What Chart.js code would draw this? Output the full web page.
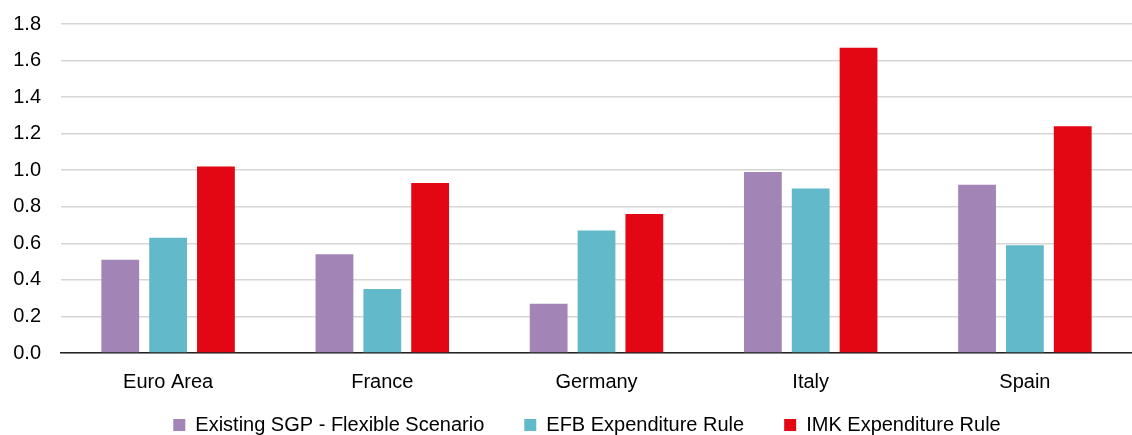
<!DOCTYPE html>
<html>
<head>
<meta charset="utf-8">
<script src="https://cdn.jsdelivr.net/npm/chart.js@4"></script>
<style>
  html, body { margin: 0; padding: 0; background: #fff; overflow: hidden; }
  /* shifted up a little so the top gridline sits near the window edge like the reference */
  #wrap { position: relative; top: -8px; width: 1132px; height: 443px; }
</style>
</head>
<body>
<div id="wrap"><canvas id="myChart"></canvas></div>
<script>
const categories = ['Euro Area', 'France', 'Germany', 'Italy', 'Spain'];
const sgpFlexible = [0.51, 0.54, 0.27, 0.99, 0.92];
const efbRule = [0.63, 0.35, 0.67, 0.90, 0.59];
const imkRule = [1.02, 0.93, 0.76, 1.67, 1.24];
const yTicks = [0, 0.2, 0.4, 0.6, 0.8, 1.0, 1.2, 1.4, 1.6, 1.8];

const font = { family: '"Liberation Sans", Arial, sans-serif', size: 20 };
const legendPad = 40;

// legend sits low (cut off at the bottom) but keeps wide gaps between items
const legendPlace = {
  id: 'legendPlace',
  afterLayout(chart) {
    const lg = chart.legend;
    lg.top = chart.height - 20 - legendPad;
    lg.bottom = chart.height;
    lg.height = lg.bottom - lg.top;
    lg.left += 21;
    lg.right += 21;
  }
};

const ctx = document.getElementById('myChart').getContext('2d');

new Chart(ctx, {
  type: 'bar',
  data: {
    labels: categories,
    datasets: [
      { label: 'Existing SGP - Flexible Scenario', data: sgpFlexible, backgroundColor: '#A284B6' },
      { label: 'EFB Expenditure Rule', data: efbRule, backgroundColor: '#61B9C9' },
      { label: 'IMK Expenditure Rule', data: imkRule, backgroundColor: '#E30613' }
    ]
  },
  options: {
    responsive: true,
    maintainAspectRatio: false,
    animation: false,
    layout: { padding: 0 },
    datasets: {
      bar: { barPercentage: 0.79, categoryPercentage: 0.67 }
    },
    scales: {
      x: {
        grid: { display: false },
        border: { display: true, color: '#222', width: 1.5 },
        ticks: { color: '#000', font: font, padding: 9 }
      },
      y: {
        min: 0,
        max: 1.8,
        afterBuildTicks: (axis) => { axis.ticks = yTicks.map(v => ({ value: v })); },
        afterFit: (axis) => { axis.width = 61; },
        grid: { color: '#D6D6D6', lineWidth: 1.5, drawTicks: false },
        border: { display: false },
        ticks: {
          color: '#000',
          font: font,
          padding: 20,
          callback: (v) => Number(v).toFixed(1)
        }
      }
    },
    plugins: {
      tooltip: { enabled: false },
      legend: {
        position: 'bottom',
        maxHeight: 32,
        labels: {
          color: '#000',
          font: font,
          boxWidth: 12,
          boxHeight: 12,
          padding: legendPad
        }
      }
    }
  },
  plugins: [legendPlace]
});
</script>
</body>
</html>
